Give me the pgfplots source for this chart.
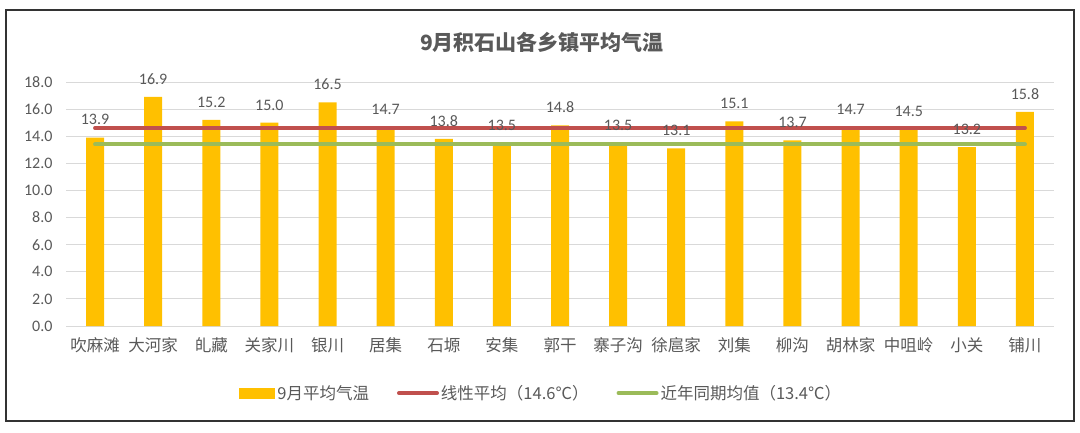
\documentclass[border=0pt]{standalone}
\usepackage{pgfplots}
\pgfplotsset{compat=1.18}
\usepackage{fontspec}
\setmainfont{Carlito}
\newfontfamily\cjk{Noto Sans CJK SC}
\definecolor{barc}{HTML}{FFC000}
\definecolor{redl}{HTML}{C0504D}
\definecolor{greenl}{HTML}{9BBB59}
\definecolor{txt}{HTML}{595959}
\definecolor{gridc}{HTML}{D9D9D9}
\begin{document}
\begin{tikzpicture}[x=1pt,y=1pt]
\path[use as bounding box] (0,0) rectangle (1080,432);
\draw[line width=1.6pt, color=black!80] (6,11) rectangle (1074,422);
\node[font=\cjk\bfseries\fontsize{21}{24}\selectfont, text=txt] at (542,390) {9月积石山各乡镇平均气温};
\begin{axis}[
  at={(66pt,106pt)}, anchor=south west,
  scale only axis, width=988pt, height=244pt,
  xmin=-0.5, xmax=16.5, ymin=0, ymax=18,
  ytick={0,2,...,18},
  xtick={0,...,16},
  xticklabels={吹麻滩,大河家,癿藏,关家川,银川,居集,石塬,安集,郭干,寨子沟,徐扈家,刘集,柳沟,胡林家,中咀岭,小关,铺川},
  xticklabel style={font=\cjk\fontsize{16.5}{18}\selectfont, text=txt, yshift=-8pt},
  yticklabel style={font=\fontsize{16}{18}\selectfont, text=txt, xshift=-10pt,
    /pgf/number format/.cd, fixed, fixed zerofill, precision=1, assume math mode=true},
  major tick length=0pt,
  axis line style={draw=none},
  ymajorgrids, grid style={gridc, line width=0.8pt},
  legend columns=3,
  legend style={at={(0.481,-0.275)}, anchor=center, draw=none, fill=none,
    font=\cjk\fontsize{16.5}{19}\selectfont, text=txt,
    /tikz/every even column/.append style={column sep=26pt}},
]
\addplot[ybar, bar width=18pt, fill=barc, draw=none,
  nodes near coords,
  every node near coord/.append style={font=\fontsize{16}{18}\selectfont, text=txt, yshift=9pt,
    /pgf/number format/.cd, fixed, fixed zerofill, precision=1, assume math mode=true},
  legend image code/.code={\fill[barc] (0pt,-5.5pt) rectangle (36pt,5.5pt);}
] coordinates {
(0,13.9) (1,16.9) (2,15.2) (3,15.0) (4,16.5) (5,14.7) (6,13.8) (7,13.5) (8,14.8)
(9,13.5) (10,13.1) (11,15.1) (12,13.7) (13,14.7) (14,14.5) (15,13.2) (16,15.8)};
\addlegendentry{9月平均气温}
\addplot[redl, line width=4pt, line cap=round, legend image code/.code={\draw[redl, line width=4pt, line cap=round] (0pt,0pt) -- (38pt,0pt);}]
 coordinates {(0,14.6) (16,14.6)};
\addlegendentry{线性平均（14.6℃）}
\addplot[greenl, line width=4pt, line cap=round, legend image code/.code={\draw[greenl, line width=4pt, line cap=round] (0pt,0pt) -- (38pt,0pt);}]
 coordinates {(0,13.4) (16,13.4)};
\addlegendentry{近年同期均值（13.4℃）}
\end{axis}
\end{tikzpicture}
\end{document}
